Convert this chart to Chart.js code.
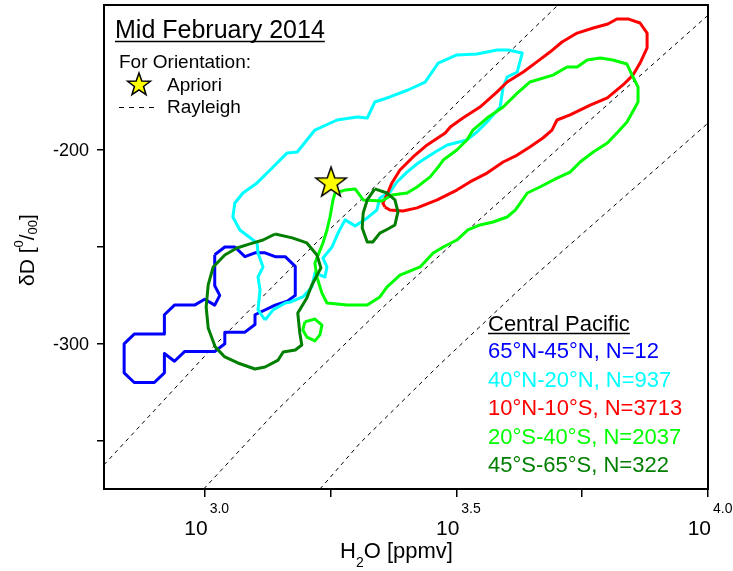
<!DOCTYPE html>
<html>
<head>
<meta charset="utf-8">
<script src="https://cdn.jsdelivr.net/npm/chart.js@4.4.1/dist/chart.umd.min.js"></script>
<style>
  body { margin: 0; background: #fff; }
  #c { display: block; }
</style>
</head>
<body>
<canvas id="c" width="733" height="571"></canvas>
<script>
// contour outlines as [log10(H2O / ppmv), dD (permil)]
const nh65to45 = [
  [3.02,-254],[3.04,-250],[3.06,-250],[3.08,-255],[3.10,-253],[3.12,-253],[3.14,-255],[3.16,-255],
  [3.18,-260],[3.18,-275],[3.164,-278],[3.14,-280],[3.10,-285],[3.10,-290],[3.08,-294],[3.04,-294],
  [3.04,-300],[3.02,-304],[2.96,-304],[2.94,-309],[2.92,-305],[2.92,-315],[2.90,-320],[2.86,-320],
  [2.84,-315],[2.84,-300],[2.86,-295],[2.92,-295],[2.92,-285],[2.94,-280],[2.98,-280],[3.00,-277],
  [3.02,-280],[3.03,-275],[3.02,-270],[3.02,-254]
];
const nh40to20 = [
  [3.120,-287.7],[3.106,-282.5],[3.110,-272.2],[3.106,-265.5],[3.116,-260.3],[3.106,-253.1],[3.104,-247.9],
  [3.070,-241.2],[3.056,-234.5],[3.060,-227.3],[3.076,-222.1],[3.104,-216.9],[3.130,-210.2],[3.164,-201.4],
  [3.184,-200.9],[3.219,-189.6],[3.263,-184.4],[3.303,-182.8],[3.323,-183.4],[3.338,-175.1],[3.368,-172.5],
  [3.404,-168.9],[3.438,-164.8],[3.464,-155.0],[3.501,-150.8],[3.541,-150.3],[3.581,-148.2],[3.603,-148.2],
  [3.631,-149.8],[3.621,-159.6],[3.601,-162.2],[3.593,-167.4],[3.587,-177.7],[3.561,-185.4],[3.541,-190.6],
  [3.521,-194.7],[3.482,-197.3],[3.458,-200.9],[3.424,-206.6],[3.402,-211.3],[3.382,-216.4],[3.368,-221.6],
  [3.348,-224.7],[3.342,-230.9],[3.323,-235.0],[3.299,-239.1],[3.279,-236.0],[3.265,-242.8],[3.253,-250.0],
  [3.235,-255.7],[3.243,-260.3],[3.239,-265.5],[3.219,-263.4],[3.213,-270.7],[3.195,-275.8],[3.170,-278.4],
  [3.160,-278.9],[3.136,-282.5],[3.120,-287.7]
];
const n10to10s = [
  [3.358,-229.3],[3.368,-230.9],[3.394,-231.4],[3.422,-229.8],[3.462,-225.7],[3.501,-220.6],[3.527,-216.4],
  [3.561,-211.8],[3.593,-206.1],[3.621,-202.5],[3.646,-198.3],[3.672,-193.7],[3.690,-189.6],[3.700,-184.4],
  [3.726,-181.8],[3.766,-176.7],[3.800,-173.0],[3.831,-166.3],[3.851,-161.2],[3.865,-155.0],[3.879,-147.2],
  [3.879,-139.5],[3.865,-134.3],[3.841,-132.2],[3.819,-132.2],[3.801,-134.8],[3.772,-136.9],[3.740,-139.5],
  [3.710,-144.1],[3.686,-149.3],[3.660,-154.4],[3.633,-159.6],[3.601,-164.8],[3.581,-169.9],[3.547,-177.7],
  [3.513,-183.4],[3.488,-188.0],[3.478,-191.1],[3.442,-197.3],[3.414,-203.5],[3.388,-210.2],[3.372,-216.9],
  [3.362,-223.1],[3.354,-227.3],[3.358,-229.3]
];
const sh20to40 = [
  [3.259,-222.1],[3.279,-220.6],[3.299,-220.0],[3.315,-225.7],[3.352,-226.2],[3.372,-223.1],[3.402,-222.1],
  [3.422,-219.0],[3.448,-213.8],[3.464,-208.7],[3.474,-205.1],[3.501,-199.9],[3.521,-194.7],[3.533,-189.6],
  [3.561,-183.4],[3.593,-177.7],[3.621,-170.5],[3.646,-164.8],[3.692,-161.2],[3.720,-157.0],[3.740,-157.0],
  [3.760,-153.4],[3.786,-152.4],[3.811,-153.4],[3.839,-155.5],[3.851,-162.2],[3.861,-167.4],[3.861,-175.1],
  [3.849,-180.8],[3.839,-185.4],[3.821,-190.6],[3.800,-196.3],[3.772,-200.9],[3.746,-206.1],[3.726,-211.3],
  [3.700,-214.4],[3.666,-219.0],[3.641,-222.1],[3.627,-227.3],[3.617,-230.9],[3.601,-234.5],[3.573,-237.1],
  [3.547,-238.6],[3.523,-241.2],[3.501,-246.4],[3.474,-250.0],[3.454,-253.1],[3.428,-260.3],[3.388,-264.5],
  [3.362,-270.7],[3.348,-275.8],[3.323,-280.0],[3.283,-280.0],[3.243,-278.9],[3.233,-273.8],[3.223,-265.5],
  [3.219,-258.3],[3.235,-247.9],[3.243,-241.2],[3.249,-234.5],[3.255,-225.7],[3.259,-222.1]
];
const sh20to40b = [
  [3.199,-288.7],[3.219,-287.2],[3.233,-290.3],[3.229,-295.4],[3.219,-298.5],[3.203,-296.5],[3.195,-292.9],[3.199,-288.7]
];
const sh45to65 = [
  [3.140,-243.3],[3.174,-245.3],[3.203,-247.9],[3.223,-254.1],[3.231,-260.8],[3.213,-269.6],[3.203,-276.3],
  [3.185,-284.1],[3.189,-294.4],[3.193,-300.6],[3.180,-303.2],[3.156,-304.2],[3.146,-308.4],[3.120,-312.0],
  [3.100,-313.0],[3.066,-309.9],[3.040,-306.8],[3.021,-301.6],[3.007,-291.8],[3.003,-281.0],[3.007,-269.6],
  [3.017,-260.3],[3.040,-254.1],[3.064,-250.5],[3.090,-248.4],[3.116,-246.4],[3.140,-243.3]
];
const sh45to65b = [
  [3.338,-220.0],[3.362,-222.1],[3.378,-225.7],[3.384,-231.9],[3.378,-238.6],[3.364,-240.7],[3.348,-242.8],
  [3.334,-247.4],[3.323,-247.4],[3.313,-240.2],[3.315,-232.4],[3.323,-225.7],[3.338,-220.0]
];
const rayleighA = [[2.800,-362.5],[3.017,-301.6],[3.144,-268.1],[3.249,-240.7],[3.348,-216.4],[3.507,-174.1],[3.702,-125]];
const rayleighB = [[2.998,-375],[3.011,-371.4],[3.144,-334.2],[3.342,-284.1],[3.402,-269.6],[3.706,-198.3],[4.000,-130.3]];
const rayleighC = [[3.229,-375],[3.245,-370.3],[3.309,-351.2],[3.468,-310.4],[3.637,-269.1],[4.000,-186]];
const apriori = [[3.251,-217]];

const xTicks = [3.0, 3.25, 3.5, 3.75, 4.0];
const xTickLabels = { 3.0: "3.0", 3.5: "3.5", 4.0: "4.0" };
const yTicks = [-350, -300, -250, -200];
const yTickLabels = [-300, -200];

const legendLabels = ["65°N-45°N, N=12", "40°N-20°N, N=937", "10°N-10°S, N=3713", "20°S-40°S, N=2037", "45°S-65°S, N=322"];
const legendColors = ["#0000ff", "#00ffff", "#ff0000", "#00ff00", "#007f00"];

const FONT = '"Liberation Sans", Arial, sans-serif';

function makeStar(R) {
  const c = document.createElement("canvas");
  const s = Math.ceil(R * 2 + 4);
  c.width = s; c.height = s;
  const g = c.getContext("2d");
  g.translate(s / 2, s / 2);
  g.beginPath();
  for (let i = 0; i < 10; i++) {
    const r = i % 2 ? R * 0.4 : R;
    const a = -Math.PI / 2 + i * Math.PI / 5;
    g.lineTo(r * Math.cos(a), r * Math.sin(a));
  }
  g.closePath();
  g.fillStyle = "#ffff00";
  g.fill();
  g.lineWidth = 1.5;
  g.strokeStyle = "#000";
  g.stroke();
  return c;
}

const toXY = arr => arr.map(p => ({ x: p[0], y: p[1] }));

function contour(data, color, order) {
  return {
    data: toXY(data), showLine: true, borderColor: color, borderWidth: 3,
    pointRadius: 0, tension: 0, borderJoinStyle: "round", order: order
  };
}

function rayleigh(data) {
  return {
    data: toXY(data), showLine: true, borderColor: "#000", borderWidth: 1,
    borderDash: [4, 4], pointRadius: 0, tension: 0, order: 9
  };
}

const decorPlugin = {
  id: "decor",
  afterDraw(chart) {
    const ctx = chart.ctx;
    const a = chart.chartArea;
    const xs = chart.scales.x;
    const ys = chart.scales.y;
    ctx.save();
    ctx.strokeStyle = "#000";
    ctx.lineWidth = 2;
    ctx.strokeRect(a.left, a.top, a.right - a.left, a.bottom - a.top);

    ctx.fillStyle = "#000";
    // y tick labels
    ctx.font = "18px " + FONT;
    ctx.textAlign = "right";
    ctx.textBaseline = "middle";
    yTickLabels.forEach(v => ctx.fillText(String(v), 89, ys.getPixelForValue(v) + 1));

    ctx.textBaseline = "alphabetic";
    // x tick labels 10^n
    Object.keys(xTickLabels).forEach(k => {
      const px = xs.getPixelForValue(parseFloat(k));
      ctx.font = "21px " + FONT;
      ctx.textAlign = "right";
      ctx.fillText("10", px + 3, 535);
      ctx.font = "14px " + FONT;
      ctx.textAlign = "left";
      ctx.fillText(xTickLabels[k], px + 5, 513);
    });

    // x title
    ctx.textAlign = "left";
    ctx.font = "22px " + FONT;
    ctx.fillText("H", 340, 558);
    let w = ctx.measureText("H").width;
    ctx.font = "14px " + FONT;
    ctx.fillText("2", 340 + w, 567);
    w += ctx.measureText("2").width;
    ctx.font = "22px " + FONT;
    ctx.fillText("O [ppmv]", 340 + w, 558);

    // y title
    ctx.save();
    ctx.translate(34, 286);
    ctx.rotate(-Math.PI / 2);
    ctx.font = "21px " + FONT;
    let x = 0;
    ctx.fillText("δD [", x, 0); x += ctx.measureText("δD [").width;
    ctx.font = "13px " + FONT;
    ctx.fillText("0", x, -11); x += ctx.measureText("0").width;
    ctx.font = "21px " + FONT;
    ctx.fillText("/", x, 0); x += ctx.measureText("/").width;
    ctx.font = "13px " + FONT;
    ctx.fillText("00", x, 3); x += ctx.measureText("00").width;
    ctx.font = "21px " + FONT;
    ctx.fillText("]", x, 0);
    ctx.restore();

    // top-left legend
    ctx.font = "25px " + FONT;
    ctx.fillText("Mid February 2014", 115, 38);
    let tw = ctx.measureText("Mid February 2014").width;
    ctx.lineWidth = 1.5;
    ctx.beginPath(); ctx.moveTo(115, 41.5); ctx.lineTo(115 + tw, 41.5); ctx.stroke();
    ctx.font = "19px " + FONT;
    ctx.fillText("For Orientation:", 119, 68);
    const st = makeStar(12);
    ctx.drawImage(st, 139 - st.width / 2, 85 - st.height / 2);
    ctx.fillText("Apriori", 167, 91);
    ctx.fillText("Rayleigh", 167, 113);
    ctx.lineWidth = 1;
    ctx.setLineDash([5, 5]);
    ctx.beginPath(); ctx.moveTo(119, 107.5); ctx.lineTo(158, 107.5); ctx.stroke();
    ctx.setLineDash([]);

    // region legend
    ctx.font = "22px " + FONT;
    ctx.fillText("Central Pacific", 488, 331);
    tw = ctx.measureText("Central Pacific").width;
    ctx.lineWidth = 1.5;
    ctx.beginPath(); ctx.moveTo(488, 333.5); ctx.lineTo(488 + tw, 333.5); ctx.stroke();
    legendLabels.forEach((t, i) => {
      ctx.fillStyle = legendColors[i];
      ctx.fillText(t, 488, 358 + i * 28.5);
    });
    ctx.restore();
  }
};

new Chart(document.getElementById("c"), {
  type: "scatter",
  data: {
    datasets: [
      { data: toXY(apriori), pointStyle: makeStar(16), pointRadius: 16, order: 0 },
      contour(sh45to65, legendColors[4], 1),
      contour(sh45to65b, legendColors[4], 1),
      contour(sh20to40, legendColors[3], 2),
      contour(sh20to40b, legendColors[3], 2),
      contour(n10to10s, legendColors[2], 3),
      contour(nh40to20, legendColors[1], 4),
      contour(nh65to45, legendColors[0], 5),
      rayleigh(rayleighA),
      rayleigh(rayleighB),
      rayleigh(rayleighC)
    ]
  },
  options: {
    responsive: false,
    devicePixelRatio: 1,
    animation: false,
    layout: { autoPadding: false, padding: { top: 5, right: 25, left: 0, bottom: 0 } },
    plugins: { legend: { display: false }, tooltip: { enabled: false } },
    scales: {
      x: {
        type: "linear", min: 2.8, max: 4.0,
        afterBuildTicks: s => { s.ticks = xTicks.map(v => ({ value: v })); },
        afterFit: s => { s.height = 82; },
        ticks: { display: false },
        grid: { drawOnChartArea: false, drawTicks: true, tickLength: 8, color: "#000", lineWidth: 1.5 },
        border: { display: true, color: "#000", width: 2 }
      },
      y: {
        type: "linear", min: -375, max: -125,
        afterBuildTicks: s => { s.ticks = yTicks.map(v => ({ value: v })); },
        afterFit: s => { s.width = 104; },
        ticks: { display: false },
        grid: { drawOnChartArea: false, drawTicks: true, tickLength: 7, color: "#000", lineWidth: 1.5 },
        border: { display: true, color: "#000", width: 2 }
      }
    }
  },
  plugins: [decorPlugin]
});
</script>
</body>
</html>
